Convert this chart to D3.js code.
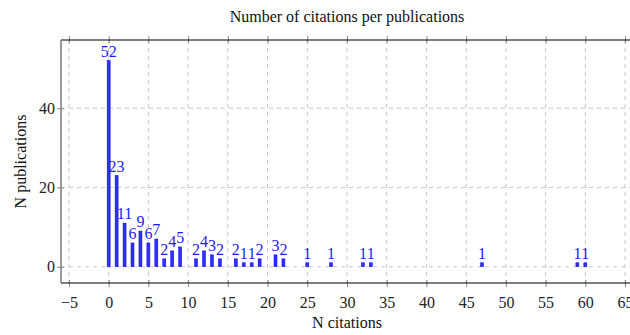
<!DOCTYPE html>
<html>
<head>
<meta charset="utf-8">
<script src="https://cdn.jsdelivr.net/npm/d3@7"></script>
<style>
  body { margin: 0; background: #fff; }
  svg text { font-family: "Liberation Serif", "DejaVu Serif", serif !important; }
</style>
</head>
<body>
<div id="chart"></div>
<script>
// citations per publication (x) and number of publications (y)
var citations = [0, 1, 2, 3, 4, 5, 6, 7, 8, 9, 11, 12, 13, 14, 16, 17, 18, 19, 21, 22, 25, 28, 32, 33, 47, 59, 60];
var publications = [52, 23, 11, 6, 9, 6, 7, 2, 4, 5, 2, 4, 3, 2, 2, 1, 1, 2, 3, 2, 1, 1, 1, 1, 1, 1, 1];
var xTicks = [-5, 0, 5, 10, 15, 20, 25, 30, 35, 40, 45, 50, 55, 60, 65];
var yTicks = [0, 20, 40];

function init(){
    var w = 630;
    var h = 335;
    var left = 61, right = 633, top = 40, bottom = 283;

    var svg = d3.select("#chart")
                .append("svg")
                .attr("width", w)
                .attr("height", h);

    var x = d3.scaleLinear().domain([-6, 66]).range([left, right]);
    var y = d3.scaleLinear().domain([-4.1, 57.2]).range([bottom, top]);

    var data = citations.map(function(c, i){ return {x: c, y: publications[i]}; });

    // grid
    svg.append("g").selectAll("line")
        .data(xTicks)
        .enter()
        .append("line")
        .attr("x1", function(d){ return x(d); })
        .attr("x2", function(d){ return x(d); })
        .attr("y1", top)
        .attr("y2", bottom)
        .attr("stroke", "#c8c8c8")
        .attr("stroke-width", 1)
        .attr("stroke-dasharray", "4,4");

    svg.append("g").selectAll("line")
        .data(yTicks)
        .enter()
        .append("line")
        .attr("x1", left)
        .attr("x2", right)
        .attr("y1", function(d){ return y(d); })
        .attr("y2", function(d){ return y(d); })
        .attr("stroke", "#c8c8c8")
        .attr("stroke-width", 1)
        .attr("stroke-dasharray", "4,4");

    // bars
    svg.selectAll("rect")
        .data(data)
        .enter()
        .append("rect")
        .attr("x", function(d){ return x(d.x) - 1.5; })
        .attr("y", function(d){ return y(d.y); })
        .attr("width", 3)
        .attr("height", function(d){ return y(0) - y(d.y); })
        .attr("fill", "#3030ff")
        .attr("stroke", "#0000e0")
        .attr("stroke-width", 0.5);

    svg.selectAll("text.lbl")
        .data(data)
        .enter()
        .append("text")
        .attr("class", "lbl")
        .attr("x", function(d){ return x(d.x); })
        .attr("y", function(d){ return y(d.y) - 4; })
        .attr("text-anchor", "middle")
        .attr("font-size", 16)
        .attr("fill", "#1a1aff")
        .text(function(d){ return d.y; });

    // ticks
    var xAxisB = d3.axisBottom(x).tickValues(xTicks).tickSize(5)
        .tickFormat(function(d){ return d < 0 ? "\u2212" + Math.abs(d) : d; });
    var gB = svg.append("g").attr("transform", "translate(0," + bottom + ")").call(xAxisB);
    gB.select(".domain").remove();
    gB.selectAll("line").attr("stroke", "#888").attr("y1", -3).attr("y2", 4);
    gB.selectAll("text").attr("font-size", 16).attr("fill", "#222").attr("dy", 0).attr("y", 25);

    var xAxisT = d3.axisTop(x).tickValues(xTicks).tickSize(5).tickFormat("");
    var gT = svg.append("g").attr("transform", "translate(0," + top + ")").call(xAxisT);
    gT.select(".domain").remove();
    gT.selectAll("line").attr("stroke", "#888").attr("y1", 3).attr("y2", -4);

    var yAxis = d3.axisLeft(y).tickValues(yTicks).tickSize(5);
    var gL = svg.append("g").attr("transform", "translate(" + left + ",0)").call(yAxis);
    gL.select(".domain").remove();
    gL.selectAll("line").attr("stroke", "#888").attr("x1", 3).attr("x2", -4);
    gL.selectAll("text").attr("font-size", 16).attr("fill", "#222").attr("x", -6).attr("dy", "0.32em");

    // frame
    svg.append("line").attr("x1", left).attr("x2", right).attr("y1", top).attr("y2", top)
        .attr("stroke", "#000").attr("stroke-width", 1.2);
    svg.append("line").attr("x1", left).attr("x2", right).attr("y1", bottom).attr("y2", bottom)
        .attr("stroke", "#000").attr("stroke-width", 1.2);
    svg.append("line").attr("x1", left).attr("x2", left).attr("y1", top).attr("y2", bottom)
        .attr("stroke", "#808080").attr("stroke-width", 1.6);

    // titles
    svg.append("text")
        .attr("x", (left + right) / 2)
        .attr("y", 22)
        .attr("text-anchor", "middle")
        .attr("font-size", 16)
        .attr("fill", "#111")
        .text("Number of citations per publications");

    svg.append("text")
        .attr("x", (left + right) / 2)
        .attr("y", 328)
        .attr("text-anchor", "middle")
        .attr("font-size", 16)
        .attr("fill", "#111")
        .text("N citations");

    svg.append("text")
        .attr("transform", "translate(26," + ((top + bottom) / 2) + ") rotate(-90)")
        .attr("text-anchor", "middle")
        .attr("font-size", 16)
        .attr("fill", "#111")
        .text("N publications");
}
window.onload = init;
</script>
</body>
</html>
